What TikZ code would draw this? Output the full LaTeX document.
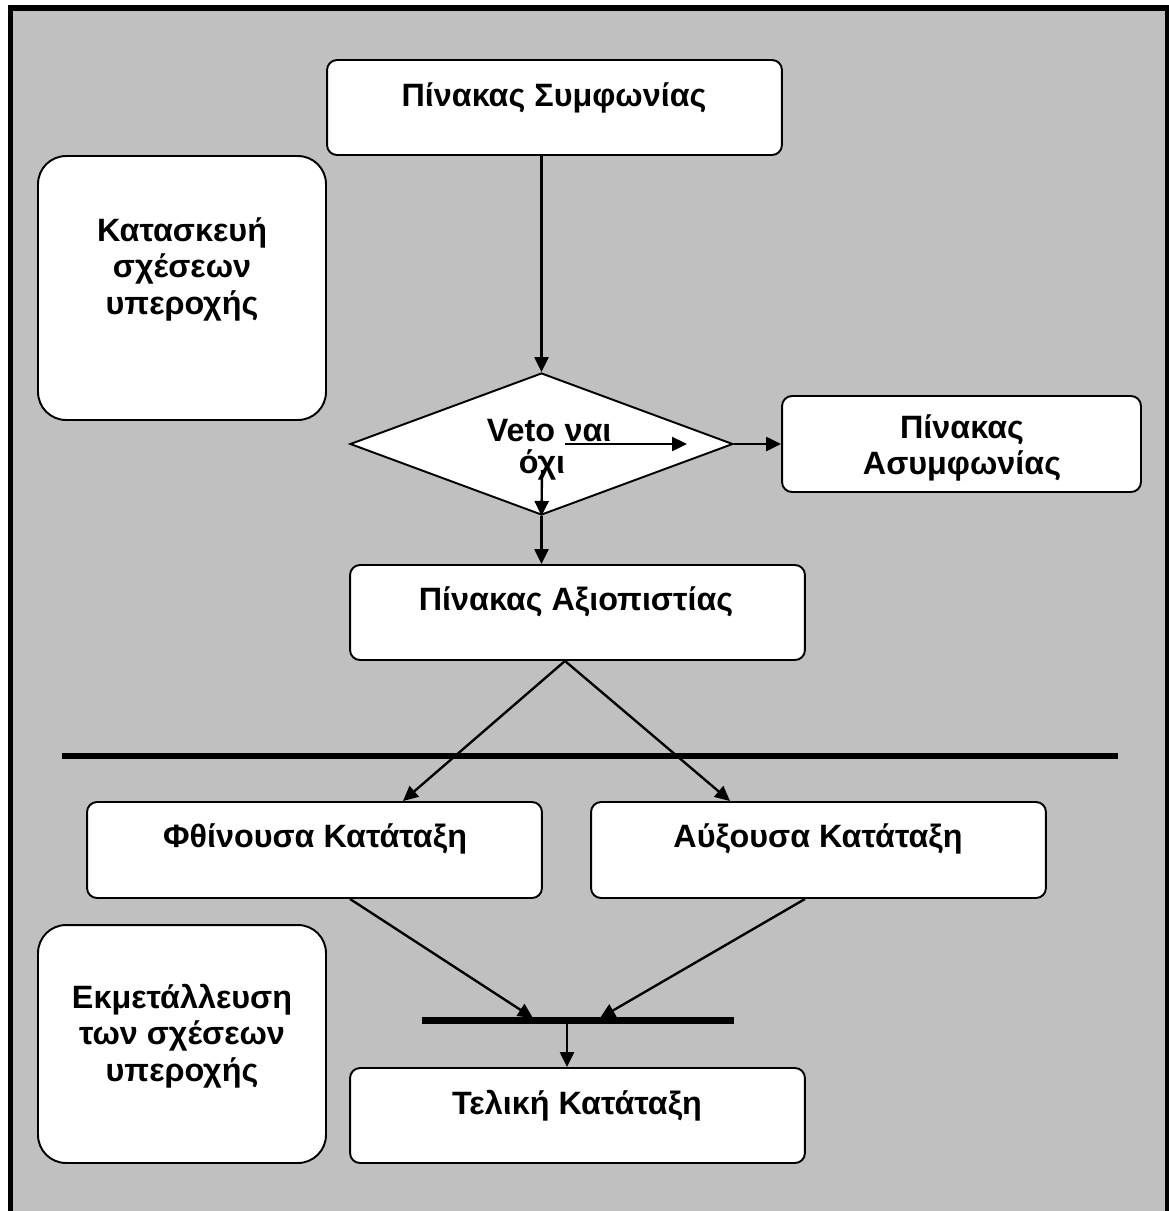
\documentclass[tikz,border=0pt]{standalone}
\usepackage{fontspec}
\setmainfont{Liberation Sans}
\usepackage{xcolor}
\usetikzlibrary{shapes.geometric}
\usetikzlibrary{arrows.meta}
\definecolor{panelgray}{HTML}{C0C0C0}
\tikzset{
	box/.style={draw,fill=white,line width=1.1pt,rounded corners=0.2cm,inner sep=0pt},
	sidebox/.style={box,rounded corners=0.56cm},
	txt/.style={font=\fontsize{18.4}{20.8}\selectfont\bfseries,align=center,inner sep=0pt},
	conn/.style={line width=1.35pt,-{Triangle[length=0.3cm,width=0.28cm]}},
}
\begin{document}
\begin{tikzpicture}[x=0.02cm,y=-0.02cm]
					\useasboundingbox (0,0) rectangle (1169,1211);
					\fill[panelgray] (10,8) rectangle (1169,1230);
					\draw[line width=3.2pt] (10.5,1230)--(10.5,8)--(1168,8)--(1168,1230);
					\node[box,minimum width=9.1cm,minimum height=1.9cm] (agree) at (554.5,107.5) {};
					\node[txt] at (554,98) {Πίνακας Συμφωνίας};
					\node[sidebox,minimum width=5.76cm,minimum height=5.28cm] (build) at (182,288) {};
					\node[txt] at (182,269) {Κατασκευή\\σχέσεων\\υπεροχής};
					\node[diamond,draw,fill=white,line width=1.1pt,inner sep=0pt,minimum width=7.66cm,minimum height=2.84cm] (veto) at (541.5,444) {};
					\node[txt,anchor=base] at (521,441) {Veto};
					\node[txt,anchor=base] at (588,441) {ναι};
					\node[txt,anchor=base] (no) at (542,473) {όχι};
					\coordinate (yesL) at (565,444);
					\coordinate (yesR) at (687,444);
					\coordinate (noT) at (542,470);
					\node[box,minimum width=7.18cm,minimum height=1.92cm] (disagree) at (961.5,444) {};
					\node[txt] at (962,448) {Πίνακας\\Ασυμφωνίας};
					\node[box,minimum width=9.1cm,minimum height=1.9cm] (cred) at (577.5,612.5) {};
					\node[txt] at (576,602) {Πίνακας Αξιοπιστίας};
					\draw[line width=3.4pt] (62,756)--(1118,756);
					\node[box,minimum width=9.1cm,minimum height=1.92cm] (desc) at (314.5,850) {};
					\node[txt] at (315,839) {Φθίνουσα Κατάταξη};
					\node[box,minimum width=9.1cm,minimum height=1.92cm] (asc) at (818.5,850) {};
					\node[txt] at (818,839) {Αύξουσα Κατάταξη};
					\node[sidebox,minimum width=5.76cm,minimum height=4.76cm] (exploit) at (182,1044) {};
					\node[txt] at (182,1036) {Εκμετάλλευση\\των σχέσεων\\υπεροχής};
					\coordinate (barL) at (422,1020);
					\coordinate (barR) at (734,1020);
					\coordinate (barM) at (567,1020);
					\coordinate (inL) at (533,1018);
					\coordinate (inR) at (600,1018);
					\draw[line width=4pt] (barL)--(barR);
					\node[box,minimum width=9.1cm,minimum height=1.9cm] (final) at (577.5,1115.5) {};
					\node[txt] at (577,1106) {Τελική Κατάταξη};
					\draw[conn] (agree.south -| veto.north)--(veto.north);
					\draw[conn] (yesL)--(yesR);
					\draw[conn] (veto.east)--(disagree.west);
					\draw[conn] (noT)--(veto.south);
					\draw[conn] (veto.south)--(veto.south |- cred.north);
					\draw[conn] ([xshift=-0.25cm]cred.south)--([xshift=1.77cm]desc.north);
					\draw[conn] ([xshift=-0.25cm]cred.south)--([xshift=-1.77cm]asc.north);
					\draw[conn] ([xshift=0.71cm]desc.south)--(inL);
					\draw[conn] ([xshift=-0.27cm]asc.south)--(inR);
					\draw[conn] (barM)--(barM |- final.north);
				\end{tikzpicture}
\end{document}
